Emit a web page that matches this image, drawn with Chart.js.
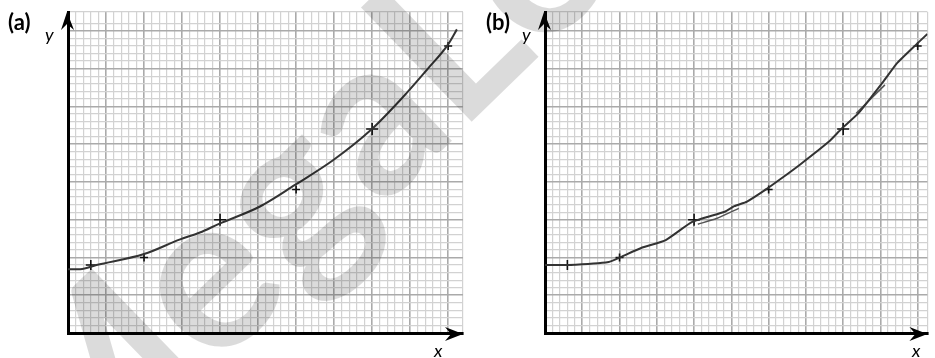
<!DOCTYPE html>
<html>
<head>
<meta charset="utf-8">
<script src="https://cdn.jsdelivr.net/npm/chart.js@4.4.0/dist/chart.umd.min.js"></script>
<style>
    html, body { margin: 0; padding: 0; background: #fff; }
    #wrap { position: relative; width: 935px; height: 358px; overflow: hidden; }
    #chartA { position: absolute; left: 0; top: 0; }
    #chartB { position: absolute; left: 470px; top: 0; }
    #mark { position: absolute; left: 0; top: 0; pointer-events: none; }
</style>
</head>
<body>
<div id="wrap">
    <canvas id="chartA" width="480" height="358"></canvas>
    <canvas id="chartB" width="465" height="358"></canvas>
    <canvas id="mark" width="935" height="358"></canvas>
</div>
<script>
// values, in big grid squares
const pointX = [0.6, 2.0, 4.0, 6.0, 8.0, 10.0];
const pointY = [1.8, 2.0, 3.0, 3.8, 5.4, 7.6];

// (a) smooth curve
const curveAX = [0, 0.32, 0.75, 2.0, 2.95, 3.47, 3.97, 5.05, 5.97, 6.98, 7.95, 8.74, 9.44, 9.99, 10.23];
const curveAY = [1.69, 1.69, 1.80, 2.09, 2.48, 2.66, 2.89, 3.35, 3.92, 4.58, 5.36, 6.17, 6.97, 7.63, 8.04];

// (b) sketchy curve
const curveBX = [0, 0.63, 1.71, 2.03, 2.58, 3.24, 3.95, 4.82, 5.08, 5.42, 5.94, 6.31, 6.83, 7.62, 7.93, 8.41, 9.11, 9.44, 9.95, 10.26];
const curveBY = [1.80, 1.80, 1.88, 2.01, 2.25, 2.46, 2.94, 3.21, 3.36, 3.48, 3.81, 4.07, 4.45, 5.07, 5.38, 5.82, 6.70, 7.14, 7.63, 7.92];
// (b) doubled strokes
const strokeB1X = [4.1, 4.6, 5.2];
const strokeB1Y = [2.88, 3.03, 3.30];
const strokeB2X = [8.35, 9.12];
const strokeB2Y = [5.82, 6.57];

function toXY(xs, ys) {
    return xs.map(function (x, i) { return {x: x, y: ys[i]}; });
}

function gridColor(c) {
    let v = Math.round(c.tick.value * 10);
    if (v % 10 === 0) return '#aaaaaa';
    return '#d2d2d2';
}
function gridWidth(c) {
    let v = Math.round(c.tick.value * 10);
    return v % 10 === 0 ? 1.6 : 1.2;
}

function makeScales(xMax, yMax) {
    let axis = function (max) {
        return {
            type: 'linear',
            min: 0,
            max: max,
            ticks: {display: false, stepSize: 0.2},
            grid: {color: gridColor, lineWidth: gridWidth, drawTicks: false},
            border: {display: true, color: '#000', width: 3}
        };
    };
    return {x: axis(xMax), y: axis(yMax)};
}

// arrows + axis labels
function decor(tag, tagX, yX, xX) {
    return {
        id: 'decor',
        afterDraw: function (chart) {
            let ctx = chart.ctx;
            let a = chart.chartArea;
            ctx.save();
            ctx.fillStyle = '#000';
            // x arrow
            ctx.beginPath();
            ctx.moveTo(a.right, a.bottom + 1);
            ctx.lineTo(a.right - 18, a.bottom - 6);
            ctx.lineTo(a.right - 12, a.bottom + 1);
            ctx.lineTo(a.right - 18, a.bottom + 8);
            ctx.closePath();
            ctx.fill();
            // y arrow
            ctx.beginPath();
            ctx.moveTo(a.left - 1, a.top);
            ctx.lineTo(a.left - 7, a.top + 18);
            ctx.lineTo(a.left - 1, a.top + 12);
            ctx.lineTo(a.left + 6, a.top + 18);
            ctx.closePath();
            ctx.fill();
            ctx.font = 'bold 22px Lato';
            ctx.fillText(tag, tagX, 30);
            ctx.font = 'italic 18px Lato';
            ctx.fillText('y', yX, 41);
            ctx.fillText('x', xX, 357);
            ctx.restore();
        }
    };
}

function makeChart(id, sets, xMax, plugin, padLeft, padRight) {
    return new Chart(document.getElementById(id), {
        type: 'scatter',
        data: {datasets: sets},
        options: {
            responsive: false,
            animation: false,
            layout: {padding: {left: padLeft, right: padRight, top: 12, bottom: 25}},
            plugins: {legend: {display: false}, tooltip: {enabled: false}},
            scales: makeScales(xMax, 8.5)
        },
        plugins: [plugin]
    });
}

let crosses = {
    data: toXY(pointX, pointY),
    pointStyle: 'cross',
    pointRadius: [5, 4, 6, 4, 6, 4],
    pointBorderWidth: 1.6,
    borderColor: '#111',
    showLine: false
};

makeChart('chartA', [
    {data: toXY(curveAX, curveAY), showLine: true, borderColor: '#333', borderWidth: 2,
        pointRadius: 0, cubicInterpolationMode: 'monotone'},
    crosses
], 10.39, decor('(a)', 8, 45, 434), 68, 17);

makeChart('chartB', [
    {data: toXY(curveBX, curveBY), showLine: true, borderColor: '#333', borderWidth: 2,
        pointRadius: 0, tension: 0.15},
    {data: toXY(strokeB1X, strokeB1Y), showLine: true, borderColor: '#555', borderWidth: 1.5,
        pointRadius: 0, tension: 0.2},
    {data: toXY(strokeB2X, strokeB2Y), showLine: true, borderColor: '#555', borderWidth: 1.5,
        pointRadius: 0},
    Object.assign({}, crosses, {data: toXY(pointX, pointY)})
], 10.26, decor('(b)', 16, 52, 442), 75, 0);

// watermark
let mctx = document.getElementById('mark').getContext('2d');
mctx.save();
mctx.translate(66, 515);
mctx.rotate(-0.77);
mctx.font = 'bold 220px Lato';
mctx.fillStyle = 'rgba(0,0,0,0.14)';
mctx.fillText('MegaLecture', 0, 0);
mctx.restore();
</script>
</body>
</html>
